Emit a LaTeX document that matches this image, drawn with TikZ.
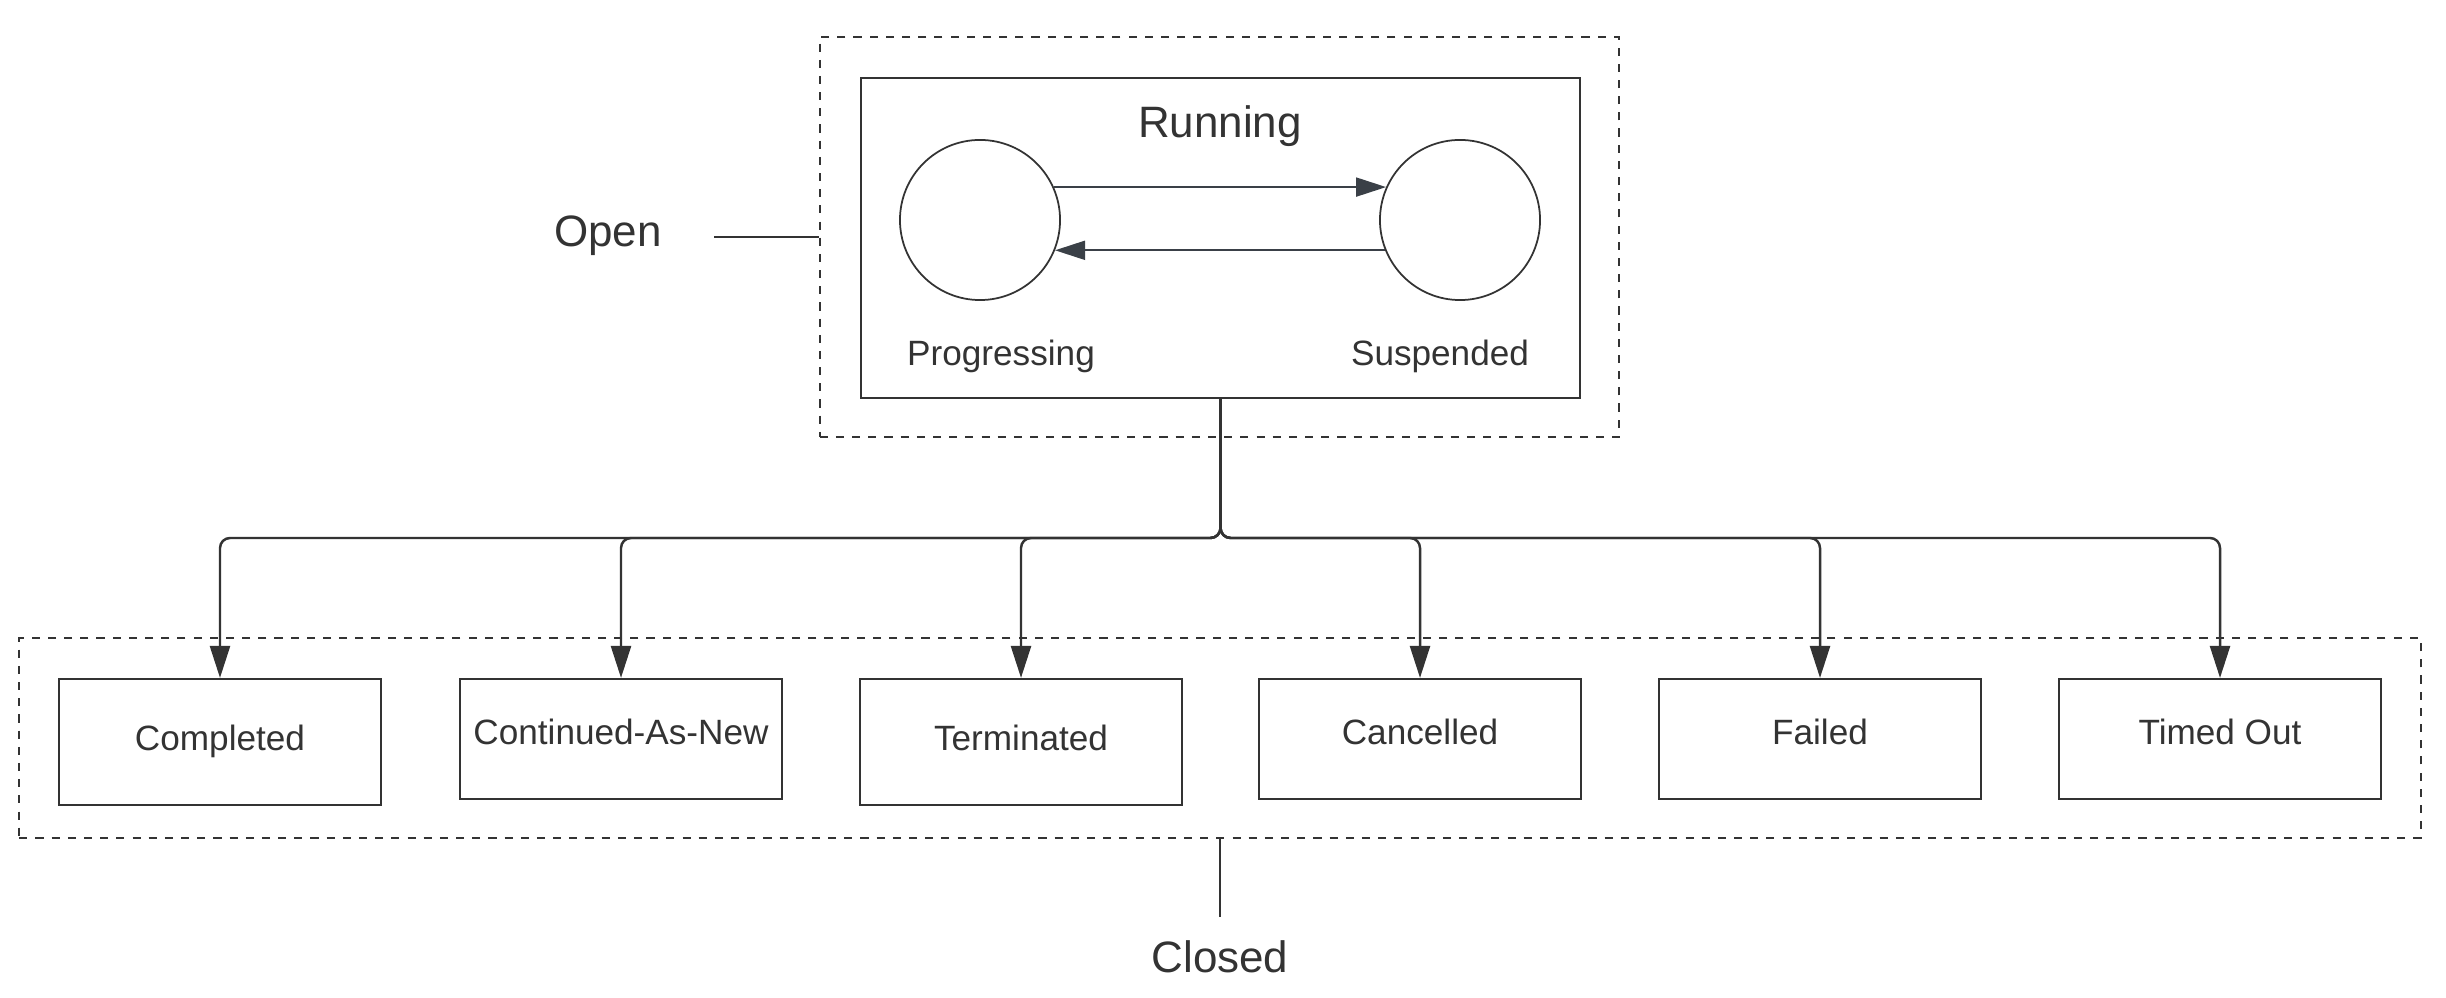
\documentclass[tikz,border=0pt]{standalone}
\usepackage{fontspec}
\setmainfont{Liberation Sans}
\usetikzlibrary{arrows.meta,positioning,calc}
\definecolor{ink}{HTML}{333333}
\definecolor{slate}{HTML}{3A4047}

\begin{document}
\begin{tikzpicture}[x=0.01cm,y=-0.01cm,>={Triangle[length=3.2mm,width=2mm]},
  font=\fontsize{10}{12}\selectfont,
  every node/.style={text=ink},
  big/.style={font=\fontsize{12.5}{15}\selectfont},
  stbox/.style={draw=ink,line width=0.6pt,minimum width=3.21cm,inner sep=0pt,text height=0.3cm,text depth=0.186cm},
  tall/.style={minimum height=1.26cm,text depth=0.126cm},
  grp/.style={draw=ink,line width=0.6pt,dash pattern=on 2.3pt off 2.3pt,inner sep=0pt},
  bus/.style={draw=ink,line width=0.7pt,rounded corners=1mm,->},
  loop/.style={draw=slate!85,line width=0.55pt,-{Triangle[length=3mm,width=1.9mm]},slate}]
\useasboundingbox (0,0) rectangle (2446,998);
% open group
\node[grp,minimum width=7.99cm,minimum height=4cm] (open) at (1219.5,237) {};
\node[draw=ink,line width=0.6pt,minimum width=7.19cm,minimum height=3.2cm,inner sep=0pt] (running) at (1220.5,238) {};
\node[big] (runlbl) at (1220,126) {Running};
\node[draw=ink,circle,line width=0.5pt,minimum size=1.6cm,inner sep=0pt] (prog) at (980,220) {};
\node[draw=ink,circle,line width=0.5pt,minimum size=1.6cm,inner sep=0pt] (susp) at (1460,220) {};
\draw[loop] (prog.24) -- (susp.156);
\draw[loop] (susp.202) -- (prog.-22);
\node (proglbl) at (1001,356) {Progressing};
\node (susplbl) at (1440,356) {Suspended};
\node[big] (openlbl) at (608,236) {Open};
\coordinate (openend) at (714,237);
\draw[ink,line width=0.6pt] (openend) -- (open.west);
% closed group
\node[grp,minimum width=24cm,minimum height=2cm] (closed) at (1220,738) {};
\node[stbox,tall] (done) at (220,742) {Completed};
\node[stbox,minimum height=1.2cm] (canew) at (621,739) {Continued-As-New};
\node[stbox,tall] (term) at (1021,742) {Terminated};
\node[stbox,minimum height=1.2cm] (cancel) at (1420,739) {Cancelled};
\node[stbox,minimum height=1.2cm] (fail) at (1820,739) {Failed};
\node[stbox,minimum height=1.2cm] (tout) at (2220,739) {Timed Out};
\coordinate (split) at (1220.5,538);
\draw[bus] (running.south) -- (split) -| (done.north);
\draw[bus] (running.south) -- (split) -| (canew.north);
\draw[bus] (running.south) -- (split) -| (term.north);
\draw[bus] (running.south) -- (split) -| (cancel.north);
\draw[bus] (running.south) -- (split) -| (fail.north);
\draw[bus] (running.south) -- (split) -| (tout.north);
\coordinate (closedend) at (1220,917);
\draw[ink,line width=0.6pt] (closed.south) -- (closedend);
\node[big] (closedlbl) at (1220,957) {Closed};
\end{tikzpicture}
\end{document}
